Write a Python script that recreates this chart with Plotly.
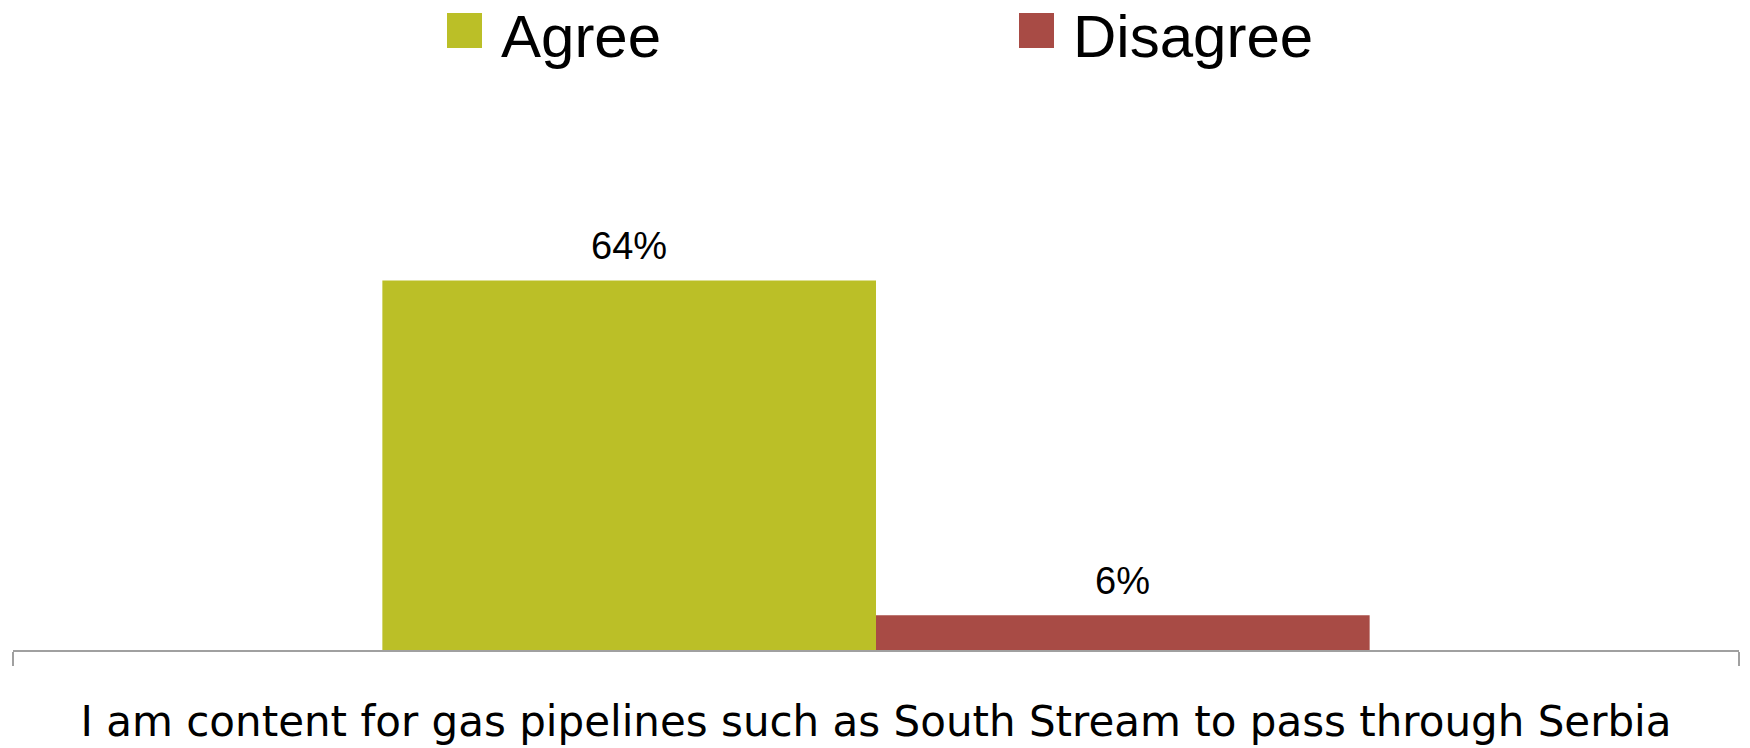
import plotly.graph_objects as go

# Survey result: share of respondents per answer
category = "I am content for gas pipelines such as South Stream to pass through Serbia"
series_names = ["Agree", "Disagree"]
series_values = [64, 6]
series_colors = ["#BBBF27", "#A84B45"]

# Figure geometry (pixels)
W, H = 1750, 748
L, R, T, B = 13, 11, 188, 98
BAR_W = 0.286          # width of each bar in category units
Y_MAX = 80

plot_w = W - L - R
plot_h = H - T - B


def px_x(px):
    return (px - L) / plot_w


def px_y(py):
    return (H - B - py) / plot_h


fig = go.Figure()
n = len(series_names)
for i, (name, val, col) in enumerate(zip(series_names, series_values, series_colors)):
    offset = (i - n / 2) * BAR_W
    fig.add_trace(go.Bar(
        x=[category], y=[val], name=name,
        marker=dict(color=col, line=dict(width=0)),
        offset=offset, width=BAR_W,
        showlegend=False,
        hoverinfo="skip",
    ))
    # value label above each bar
    fig.add_annotation(
        x=offset + BAR_W / 2, y=val, xref="x", yref="y",
        text=f"{val}%", showarrow=False,
        xanchor="center", yanchor="bottom", yshift=11,
        font=dict(family="Liberation Sans Narrow, Liberation Sans, Arial", size=38, color="#000000"),
    )

# Legend drawn as swatches and text across the top
legend_left = [447, 1019]
SW = 35
for name, col, lx in zip(series_names, series_colors, legend_left):
    fig.add_shape(
        type="rect", xref="paper", yref="paper",
        x0=px_x(lx), x1=px_x(lx + SW), y0=px_y(48), y1=px_y(13),
        fillcolor=col, line=dict(width=0),
    )
    fig.add_annotation(
        x=px_x(lx + SW + 17), y=px_y(37), xref="paper", yref="paper",
        text=name, showarrow=False, xanchor="left", yanchor="middle",
        font=dict(family="Liberation Sans Narrow, Liberation Sans, Arial", size=60, color="#000000"),
    )

fig.update_layout(
    width=W, height=H,
    margin=dict(l=L, r=R, t=T, b=B, pad=0),
    paper_bgcolor="#FFFFFF", plot_bgcolor="#FFFFFF",
    barmode="overlay",
    showlegend=False,
    xaxis=dict(
        type="category", range=[-0.5, 0.5],
        automargin=False,
        showline=True, linecolor="#A0A0A0", linewidth=2,
        ticks="outside", tickson="boundaries", ticklen=14,
        tickcolor="#A0A0A0", tickwidth=2,
        showgrid=False, zeroline=False,
        tickfont=dict(family="DejaVu Sans", size=42, color="#000000"),
        ticklabelstandoff=34,
    ),
    yaxis=dict(range=[0, Y_MAX], visible=False, showgrid=False, zeroline=False),
)

fig.write_html("out.html")
